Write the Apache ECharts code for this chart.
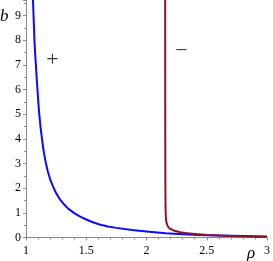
<!DOCTYPE html>
<html><head><meta charset="utf-8">
<script src="https://cdn.jsdelivr.net/npm/echarts@6/dist/echarts.min.js"></script>
<style>html,body{margin:0;padding:0;background:#fff}#c{width:273px;height:261px}</style>
</head><body><div id="c"></div>
<script>
var xTicks = [1, 1.5, 2, 2.5, 3];
var yTicks = [0, 1, 2, 3, 4, 5, 6, 7, 8, 9];
var plusCurve = [[1.058,9.63],[1.064,8.8],[1.070,8.0],[1.076,7.45],[1.082,7.0],[1.088,6.5],[1.095,6.0],[1.102,5.5],[1.110,5.0],[1.120,4.5],[1.130,4.1],[1.140,3.72],[1.150,3.4],[1.165,3.02],[1.180,2.7],[1.200,2.36],[1.225,2.06],[1.250,1.80],[1.280,1.56],[1.307,1.39],[1.350,1.17],[1.403,0.98],[1.450,0.85],[1.500,0.73],[1.550,0.63],[1.610,0.53],[1.680,0.45],[1.750,0.39],[1.880,0.30],[2.000,0.24],[2.160,0.17],[2.300,0.13],[2.430,0.10],[2.600,0.078],[2.800,0.058],[3.000,0.044]];
var minusCurve = [[2.155,9.63],[2.1555,5.0],[2.156,3.0],[2.157,1.8],[2.158,1.2],[2.160,0.88],[2.163,0.70],[2.167,0.58],[2.172,0.50],[2.178,0.44],[2.185,0.40],[2.195,0.355],[2.210,0.32],[2.225,0.285],[2.240,0.26],[2.280,0.215],[2.320,0.18],[2.380,0.15],[2.430,0.13],[2.510,0.10],[2.600,0.08],[2.700,0.06],[2.850,0.04],[3.000,0.02]];
var notes = [{pos:[1.22,7.2], text:'+'},{pos:[2.29,7.55], text:'\u2212'}];
var chart = echarts.init(document.getElementById('c'));
var axisCol = '#8a8a8a';
chart.setOption({
  animation:false,
  grid:{left:26,right:4,top:0,bottom:23.5},
  xAxis:{type:'value',min:1,max:3,interval:0.5,
    axisLine:{lineStyle:{color:axisCol,width:1}},
    axisTick:{show:true,length:3,lineStyle:{color:axisCol}},
    minorTick:{show:true,splitNumber:5,length:2,lineStyle:{color:axisCol}},
    splitLine:{show:false},
    axisLabel:{color:'#000',fontFamily:'Liberation Serif',fontSize:12,margin:7,
      formatter:function(v){return xTicks.indexOf(v)>=0?String(v):'';}}},
  yAxis:{type:'value',min:0,max:9.63,interval:1,
    axisLine:{show:true,lineStyle:{color:axisCol,width:1}},
    axisTick:{show:true,length:3,lineStyle:{color:axisCol}},
    minorTick:{show:true,splitNumber:2,length:2,lineStyle:{color:axisCol}},
    splitLine:{show:false},
    axisLabel:{color:'#000',fontFamily:'Liberation Serif',fontSize:12,margin:5,showMaxLabel:false,
      formatter:function(v){return yTicks.indexOf(v)>=0?String(v):'';}}},
  graphic:[
    {type:'text',left:0,top:8,style:{text:'b',font:'italic 17px "Liberation Serif"',fill:'#000'}},
    {type:'text',left:247,top:245,style:{text:'\u03c1',font:'italic 17px "Liberation Serif"',fill:'#000'}}
  ],
  series:[
    {type:'line',data:plusCurve,smooth:false,showSymbol:false,lineStyle:{color:'#0a0aff',width:2,join:'round'},clip:true},
    {type:'line',data:minusCurve,smooth:false,showSymbol:false,lineStyle:{color:'#8b1525',width:2,join:'round'},clip:true},
    {type:'scatter',symbolSize:0,data:notes.map(function(n){return {value:n.pos,label:{formatter:n.text}};}),
      label:{show:true,position:'inside',color:'#000',fontFamily:'Liberation Serif',fontSize:22}}
  ]
});
</script></body></html>
